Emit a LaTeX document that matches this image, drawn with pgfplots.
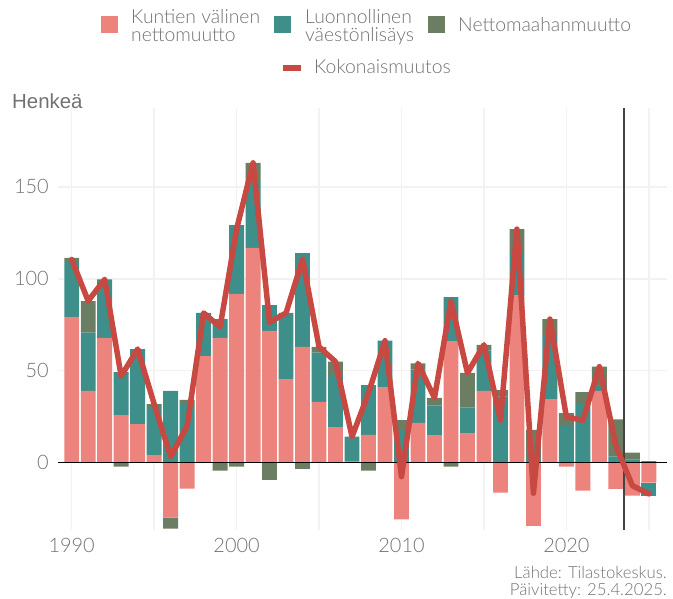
\documentclass[border=0pt]{standalone}
\usepackage{pgfplots}
\usepackage{pgfplotstable}
\pgfplotsset{compat=1.18}
\usepackage{fontspec}
\setmainfont{Lato}[UprightFont=* Light]
\newfontfamily\arialfont{Liberation Sans}
\definecolor{cpink}{HTML}{EC837D}
\definecolor{cteal}{HTML}{3E8E89}
\definecolor{cgreen}{HTML}{6B7D63}
\definecolor{cline}{HTML}{C84842}
\definecolor{ctext}{HTML}{727272}
\definecolor{cgrid}{HTML}{F2F2F2}
\definecolor{cvline}{HTML}{444444}

% positive parts: inter-municipal net migration, natural increase, net immigration
\pgfplotstableread{
year pink teal green
1990 78.8 30.4 2.2
1991 39.1 31.6 17.2
1992 67.9 31.8 0
1993 25.9 23.4 0
1994 21.0 40.8 0
1995 3.8 26.6 1.5
1996 0 39.1 0
1997 0 31.9 2.2
1998 58.0 23.4 0
1999 67.9 10.2 0
2000 91.8 37.4 0
2001 116.8 35.9 10.3
2002 71.6 14.1 0
2003 45.1 36.3 0
2004 62.9 51.1 0
2005 33.0 26.8 3.1
2006 19.0 28.8 7.1
2007 0.9 13.2 0
2008 15.1 27.1 0
2009 40.8 25.5 0
2010 0 17.8 5.4
2011 21.6 29.1 3.3
2012 14.7 16.3 4.2
2013 65.8 24.2 0
2014 15.8 14.1 18.9
2015 39.1 21.8 3.2
2016 0 36.0 3.5
2017 90.8 23.3 12.9
2018 0 3.0 14.8
2019 34.6 34.4 9.1
2020 0 20.5 6.5
2021 0 31.9 6.4
2022 39.1 3.0 10.1
2023 0 3.3 20.3
2024 0 1.8 3.6
2025 0 0 0.9
}\posdata

% negative parts
\pgfplotstableread{
year pink teal green
1993 0 0 -2.2
1996 -29.9 0 -6.0
1997 -14.1 0 0
1999 0 0 -4.3
2000 0 0 -2.2
2002 0 0 -9.4
2004 0 0 -3.4
2008 0 0 -4.3
2010 -30.8 0 0
2013 0 0 -2.2
2016 -16.3 0 0
2018 -34.4 0 0
2020 -2.2 0 0
2021 -15.2 0 0
2023 -14.3 0 0
2024 -17.9 0 0
2025 -10.9 -7.0 0
}\negdata

% total change
\pgfplotstableread{
year total
1990 110.5
1991 87.9
1992 99.7
1993 47.1
1994 61.8
1995 31.9
1996 3.2
1997 20.0
1998 81.4
1999 73.8
2000 127.0
2001 163.0
2002 76.3
2003 81.4
2004 110.6
2005 62.9
2006 54.9
2007 14.1
2008 37.9
2009 66.3
2010 -7.6
2011 54.0
2012 35.2
2013 87.8
2014 48.8
2015 64.1
2016 23.2
2017 127.0
2018 -16.6
2019 78.1
2020 24.8
2021 23.1
2022 52.2
2023 9.3
2024 -12.5
2025 -17.0
}\totdata

\pgfplotsset{
  base/.style={
    at={(58bp,69bp)}, anchor=south west,
    scale only axis, width=609bp, height=422.3bp,
    xmin=1989.17, xmax=2026.1, ymin=-36.6, ymax=193,
  },
  bars/.style={base, hide axis, ybar stacked, bar width=0.9, bar shift=0pt},
}

\begin{document}
\begin{tikzpicture}
\useasboundingbox (0,0) rectangle (673bp,599bp);

% axis with grid and positive stacks
\begin{axis}[
  base, ybar stacked, bar width=0.9, bar shift=0pt,
  axis line style={draw=none},
  tick style={draw=none},
  xtick={1990,2000,2010,2020},
  minor xtick={1995,2005,2015,2025},
  ytick={0,50,100,150},
  grid=both,
  major grid style={cgrid, line width=1.5bp},
  minor grid style={cgrid, line width=1.5bp},
  /pgf/number format/1000 sep={},
  /pgf/number format/assume math mode=true,
  tick label style={font=\fontsize{20}{20}\selectfont, text=ctext, inner sep=0pt},
  xticklabel style={yshift=-8bp},
  yticklabel style={xshift=-9bp},
]
\addplot[fill=cpink, draw=none] table[x=year, y=pink]{\posdata};
\addplot[fill=cteal, draw=none] table[x=year, y=teal]{\posdata};
\addplot[fill=cgreen, draw=none] table[x=year, y=green]{\posdata};
\end{axis}

% negative stacks
\begin{axis}[bars]
\addplot[fill=cpink, draw=none] table[x=year, y=pink]{\negdata};
\addplot[fill=cteal, draw=none] table[x=year, y=teal]{\negdata};
\addplot[fill=cgreen, draw=none] table[x=year, y=green]{\negdata};
\end{axis}

% reference lines and total
\begin{axis}[base, hide axis]
\draw[black, line width=1.4bp] (axis cs:1989.17,0) -- (axis cs:2026.1,0);
\draw[cvline, line width=2bp] (axis cs:2023.5,-36.6) -- (axis cs:2023.5,193);
\addplot[cline, line width=5.5bp, line join=round, line cap=round, mark=none] table[x=year, y=total]{\totdata};
\end{axis}

% y-axis title
\node[anchor=base west, inner sep=0pt, text=ctext] at (12bp,490bp) {\arialfont\fontsize{20.5}{20.5}\selectfont Henkeä};

% legend
\begin{scope}[every node/.style={anchor=base west, inner sep=0pt, text=ctext, font=\fontsize{19.4}{19.4}\selectfont}]
\fill[cpink] (101bp,566bp) rectangle (118bp,583bp);
\node at (131bp,575.7bp) {Kuntien välinen};
\node at (131bp,557.3bp) {nettomuutto};
\fill[cteal] (274bp,566bp) rectangle (291bp,583bp);
\node at (305bp,575.7bp) {Luonnollinen};
\node at (305bp,557.3bp) {väestönlisäys};
\fill[cgreen] (428bp,566bp) rectangle (445bp,583bp);
\node at (458bp,567.3bp) {Nettomaahanmuutto};
\draw[cline, line width=6bp] (283bp,531bp) -- (301bp,531bp);
\node at (314bp,525bp) {Kokonaismuutos};
\end{scope}

% caption
\begin{scope}[every node/.style={anchor=base east, inner sep=0pt, text=ctext, font=\fontsize{16.8}{16.8}\selectfont}]
\node at (667bp,21bp) {Lähde: Tilastokeskus.};
\node at (667bp,4bp) {Päivitetty: 25.4.2025.};
\end{scope}
\end{tikzpicture}
\end{document}
